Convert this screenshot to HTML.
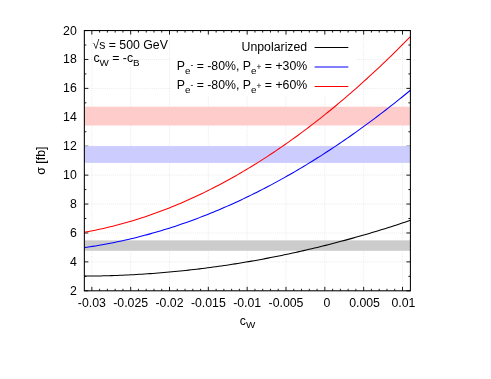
<!DOCTYPE html>
<html><head><meta charset="utf-8"><title>plot</title>
<style>
html,body{margin:0;padding:0;background:#fff;}
body{width:491px;height:379px;overflow:hidden;}
svg{display:block;will-change:transform;}
text{font-family:"Liberation Sans",sans-serif;font-size:12.3px;fill:#000;}
</style></head><body>
<svg width="491" height="379" viewBox="0 0 491 379">
<rect width="491" height="379" fill="#ffffff"/>

<path d="M91.85 30.55V290.80M130.68 30.55V290.80M169.51 30.55V290.80M208.34 30.55V290.80M247.17 30.55V290.80M286.00 30.55V290.80M324.83 30.55V290.80M363.66 30.55V290.80M402.49 30.55V290.80M84.35 261.88H410.40M84.35 232.97H410.40M84.35 204.05H410.40M84.35 175.13H410.40M84.35 146.22H410.40M84.35 117.30H410.40M84.35 88.38H410.40M84.35 59.47H410.40" stroke="#e0e0e0" stroke-width="0.65" stroke-dasharray="1 1.05" fill="none"/>
<rect x="171" y="37" width="185" height="59" fill="#fff"/>
<path d="M91.85 290.80v-4.00M91.85 30.55v4.00M99.62 290.80v-2.00M99.62 30.55v2.00M107.38 290.80v-2.00M107.38 30.55v2.00M115.15 290.80v-2.00M115.15 30.55v2.00M122.91 290.80v-2.00M122.91 30.55v2.00M130.68 290.80v-4.00M130.68 30.55v4.00M138.45 290.80v-2.00M138.45 30.55v2.00M146.21 290.80v-2.00M146.21 30.55v2.00M153.98 290.80v-2.00M153.98 30.55v2.00M161.74 290.80v-2.00M161.74 30.55v2.00M169.51 290.80v-4.00M169.51 30.55v4.00M177.28 290.80v-2.00M177.28 30.55v2.00M185.04 290.80v-2.00M185.04 30.55v2.00M192.81 290.80v-2.00M192.81 30.55v2.00M200.57 290.80v-2.00M200.57 30.55v2.00M208.34 290.80v-4.00M208.34 30.55v4.00M216.11 290.80v-2.00M216.11 30.55v2.00M223.87 290.80v-2.00M223.87 30.55v2.00M231.64 290.80v-2.00M231.64 30.55v2.00M239.40 290.80v-2.00M239.40 30.55v2.00M247.17 290.80v-4.00M247.17 30.55v4.00M254.94 290.80v-2.00M254.94 30.55v2.00M262.70 290.80v-2.00M262.70 30.55v2.00M270.47 290.80v-2.00M270.47 30.55v2.00M278.23 290.80v-2.00M278.23 30.55v2.00M286.00 290.80v-4.00M286.00 30.55v4.00M293.77 290.80v-2.00M293.77 30.55v2.00M301.53 290.80v-2.00M301.53 30.55v2.00M309.30 290.80v-2.00M309.30 30.55v2.00M317.06 290.80v-2.00M317.06 30.55v2.00M324.83 290.80v-4.00M324.83 30.55v4.00M332.60 290.80v-2.00M332.60 30.55v2.00M340.36 290.80v-2.00M340.36 30.55v2.00M348.13 290.80v-2.00M348.13 30.55v2.00M355.89 290.80v-2.00M355.89 30.55v2.00M363.66 290.80v-4.00M363.66 30.55v4.00M371.43 290.80v-2.00M371.43 30.55v2.00M379.19 290.80v-2.00M379.19 30.55v2.00M386.96 290.80v-2.00M386.96 30.55v2.00M394.72 290.80v-2.00M394.72 30.55v2.00M402.49 290.80v-4.00M402.49 30.55v4.00M84.35 290.80h4.00M410.40 290.80h-4.00M84.35 276.34h2.00M410.40 276.34h-2.00M84.35 261.88h4.00M410.40 261.88h-4.00M84.35 247.43h2.00M410.40 247.43h-2.00M84.35 232.97h4.00M410.40 232.97h-4.00M84.35 218.51h2.00M410.40 218.51h-2.00M84.35 204.05h4.00M410.40 204.05h-4.00M84.35 189.59h2.00M410.40 189.59h-2.00M84.35 175.13h4.00M410.40 175.13h-4.00M84.35 160.68h2.00M410.40 160.68h-2.00M84.35 146.22h4.00M410.40 146.22h-4.00M84.35 131.76h2.00M410.40 131.76h-2.00M84.35 117.30h4.00M410.40 117.30h-4.00M84.35 102.84h2.00M410.40 102.84h-2.00M84.35 88.38h4.00M410.40 88.38h-4.00M84.35 73.93h2.00M410.40 73.93h-2.00M84.35 59.47h4.00M410.40 59.47h-4.00M84.35 45.01h2.00M410.40 45.01h-2.00M84.35 30.55h4.00M410.40 30.55h-4.00" stroke="#000" stroke-width="0.9" fill="none"/>
<rect x="84.35" y="106.70" width="326.05" height="18.80" fill="#ffcccc"/>
<rect x="84.35" y="146.10" width="326.05" height="16.80" fill="#ccccff"/>
<rect x="84.35" y="240.35" width="326.05" height="10.45" fill="#cccccc"/>
<polyline points="84.35,276.10 87.09,276.08 89.83,276.06 92.57,276.03 95.31,275.99 98.05,275.95 100.79,275.90 103.53,275.83 106.27,275.77 109.01,275.69 111.75,275.61 114.49,275.52 117.23,275.42 119.97,275.31 122.71,275.20 125.45,275.07 128.19,274.94 130.93,274.81 133.67,274.66 136.41,274.51 139.15,274.35 141.89,274.18 144.63,274.00 147.37,273.82 150.11,273.63 152.85,273.43 155.59,273.22 158.33,273.01 161.07,272.79 163.81,272.56 166.55,272.32 169.29,272.07 172.03,271.82 174.77,271.56 177.51,271.29 180.25,271.02 182.99,270.73 185.73,270.44 188.47,270.14 191.21,269.83 193.95,269.52 196.69,269.20 199.43,268.87 202.17,268.53 204.91,268.19 207.65,267.83 210.39,267.47 213.13,267.10 215.87,266.73 218.61,266.34 221.35,265.95 224.09,265.55 226.83,265.15 229.57,264.73 232.31,264.31 235.05,263.88 237.79,263.44 240.53,263.00 243.27,262.54 246.01,262.08 248.74,261.61 251.48,261.14 254.22,260.66 256.96,260.16 259.70,259.66 262.44,259.16 265.18,258.64 267.92,258.12 270.66,257.59 273.40,257.05 276.14,256.51 278.88,255.96 281.62,255.39 284.36,254.83 287.10,254.25 289.84,253.67 292.58,253.07 295.32,252.48 298.06,251.87 300.80,251.25 303.54,250.63 306.28,250.00 309.02,249.36 311.76,248.72 314.50,248.07 317.24,247.41 319.98,246.74 322.72,246.06 325.46,245.38 328.20,244.69 330.94,243.99 333.68,243.28 336.42,242.56 339.16,241.84 341.90,241.11 344.64,240.37 347.38,239.63 350.12,238.88 352.86,238.12 355.60,237.35 358.34,236.57 361.08,235.79 363.82,235.00 366.56,234.20 369.30,233.39 372.04,232.57 374.78,231.75 377.52,230.92 380.26,230.08 383.00,229.24 385.74,228.39 388.48,227.53 391.22,226.66 393.96,225.78 396.70,224.90 399.44,224.01 402.18,223.11 404.92,222.20 407.66,221.28 410.40,220.36" fill="none" stroke="#000000" stroke-width="1.05" stroke-linejoin="round"/>
<polyline points="84.35,247.58 87.09,247.19 89.83,246.78 92.57,246.36 95.31,245.93 98.05,245.47 100.79,245.01 103.53,244.52 106.27,244.02 109.01,243.51 111.75,242.98 114.49,242.43 117.23,241.86 119.97,241.29 122.71,240.69 125.45,240.08 128.19,239.45 130.93,238.81 133.67,238.15 136.41,237.48 139.15,236.79 141.89,236.09 144.63,235.36 147.37,234.63 150.11,233.87 152.85,233.11 155.59,232.32 158.33,231.52 161.07,230.71 163.81,229.87 166.55,229.03 169.29,228.16 172.03,227.28 174.77,226.39 177.51,225.48 180.25,224.55 182.99,223.61 185.73,222.65 188.47,221.67 191.21,220.68 193.95,219.68 196.69,218.66 199.43,217.62 202.17,216.57 204.91,215.50 207.65,214.41 210.39,213.31 213.13,212.20 215.87,211.06 218.61,209.92 221.35,208.75 224.09,207.57 226.83,206.38 229.57,205.16 232.31,203.94 235.05,202.69 237.79,201.44 240.53,200.16 243.27,198.87 246.01,197.56 248.74,196.24 251.48,194.90 254.22,193.55 256.96,192.18 259.70,190.80 262.44,189.40 265.18,187.98 267.92,186.55 270.66,185.10 273.40,183.63 276.14,182.15 278.88,180.66 281.62,179.14 284.36,177.62 287.10,176.07 289.84,174.51 292.58,172.94 295.32,171.35 298.06,169.74 300.80,168.12 303.54,166.48 306.28,164.83 309.02,163.16 311.76,161.47 314.50,159.77 317.24,158.05 319.98,156.32 322.72,154.57 325.46,152.81 328.20,151.03 330.94,149.23 333.68,147.42 336.42,145.59 339.16,143.74 341.90,141.88 344.64,140.01 347.38,138.12 350.12,136.21 352.86,134.29 355.60,132.35 358.34,130.39 361.08,128.42 363.82,126.44 366.56,124.44 369.30,122.42 372.04,120.39 374.78,118.34 377.52,116.27 380.26,114.19 383.00,112.09 385.74,109.98 388.48,107.85 391.22,105.71 393.96,103.55 396.70,101.37 399.44,99.18 402.18,96.97 404.92,94.75 407.66,92.51 410.40,90.25" fill="none" stroke="#0000ff" stroke-width="1.05" stroke-linejoin="round"/>
<polyline points="84.35,232.24 87.09,231.75 89.83,231.24 92.57,230.71 95.31,230.15 98.05,229.58 100.79,228.99 103.53,228.39 106.27,227.76 109.01,227.11 111.75,226.44 114.49,225.75 117.23,225.05 119.97,224.32 122.71,223.57 125.45,222.81 128.19,222.02 130.93,221.22 133.67,220.39 136.41,219.55 139.15,218.69 141.89,217.80 144.63,216.90 147.37,215.98 150.11,215.04 152.85,214.08 155.59,213.10 158.33,212.10 161.07,211.08 163.81,210.04 166.55,208.98 169.29,207.90 172.03,206.81 174.77,205.69 177.51,204.55 180.25,203.40 182.99,202.22 185.73,201.03 188.47,199.81 191.21,198.58 193.95,197.32 196.69,196.05 199.43,194.76 202.17,193.45 204.91,192.11 207.65,190.76 210.39,189.39 213.13,188.00 215.87,186.59 218.61,185.16 221.35,183.71 224.09,182.25 226.83,180.76 229.57,179.25 232.31,177.72 235.05,176.18 237.79,174.61 240.53,173.02 243.27,171.42 246.01,169.80 248.74,168.15 251.48,166.49 254.22,164.80 256.96,163.10 259.70,161.38 262.44,159.64 265.18,157.88 267.92,156.10 270.66,154.30 273.40,152.48 276.14,150.64 278.88,148.78 281.62,146.90 284.36,145.00 287.10,143.08 289.84,141.15 292.58,139.19 295.32,137.21 298.06,135.22 300.80,133.20 303.54,131.17 306.28,129.12 309.02,127.04 311.76,124.95 314.50,122.84 317.24,120.70 319.98,118.55 322.72,116.38 325.46,114.19 328.20,111.98 330.94,109.75 333.68,107.50 336.42,105.23 339.16,102.94 341.90,100.64 344.64,98.31 347.38,95.96 350.12,93.59 352.86,91.21 355.60,88.80 358.34,86.38 361.08,83.93 363.82,81.47 366.56,78.99 369.30,76.48 372.04,73.96 374.78,71.42 377.52,68.86 380.26,66.28 383.00,63.67 385.74,61.05 388.48,58.41 391.22,55.76 393.96,53.08 396.70,50.38 399.44,47.66 402.18,44.92 404.92,42.17 407.66,39.39 410.40,36.59" fill="none" stroke="#ff0000" stroke-width="1.05" stroke-linejoin="round"/>
<rect x="84.35" y="30.55" width="326.05" height="260.25" fill="none" stroke="#000" stroke-width="1.05"/>
<text x="76.8" y="294.75" text-anchor="end">2</text>
<text x="76.8" y="265.83" text-anchor="end">4</text>
<text x="76.8" y="236.92" text-anchor="end">6</text>
<text x="76.8" y="208.00" text-anchor="end">8</text>
<text x="76.8" y="179.08" text-anchor="end">10</text>
<text x="76.8" y="150.17" text-anchor="end">12</text>
<text x="76.8" y="121.25" text-anchor="end">14</text>
<text x="76.8" y="92.33" text-anchor="end">16</text>
<text x="76.8" y="63.42" text-anchor="end">18</text>
<text x="76.8" y="34.50" text-anchor="end">20</text>
<text x="91.85" y="307.35" text-anchor="middle">-0.03</text>
<text x="130.68" y="307.35" text-anchor="middle">-0.025</text>
<text x="169.51" y="307.35" text-anchor="middle">-0.02</text>
<text x="208.34" y="307.35" text-anchor="middle">-0.015</text>
<text x="247.17" y="307.35" text-anchor="middle">-0.01</text>
<text x="286.00" y="307.35" text-anchor="middle">-0.005</text>
<text x="326.83" y="307.35" text-anchor="middle">0</text>
<text x="364.56" y="307.35" text-anchor="middle">0.005</text>
<text x="403.39" y="307.35" text-anchor="middle">0.01</text>
<text transform="translate(45.05,160.6) rotate(-90)" text-anchor="middle">σ [fb]</text>
<text x="247.5" y="325.0" text-anchor="middle">c<tspan font-size="9.84" dy="3.4">W</tspan></text>
<text x="92.4" y="48.8">√s = 500 GeV</text>
<text x="93.4" y="62.0">c<tspan font-size="9.84" dy="3.5">W</tspan><tspan dy="-3.5"> = -c</tspan><tspan font-size="9.84" dy="3.5">B</tspan></text>
<text x="307.2" y="51.4" text-anchor="end">Unpolarized</text>
<text x="307.2" y="69.85" text-anchor="end">P<tspan font-size="9.84" dy="3.7">e</tspan><tspan font-size="8.36" dy="-5.1">-</tspan><tspan dy="1.4"> = -80%, P</tspan><tspan font-size="9.84" dy="3.7">e</tspan><tspan font-size="8.36" dy="-3.9">+</tspan><tspan dy="0.2"> = +30%</tspan></text>
<text x="307.2" y="89.20" text-anchor="end">P<tspan font-size="9.84" dy="3.7">e</tspan><tspan font-size="8.36" dy="-5.1">-</tspan><tspan dy="1.4"> = -80%, P</tspan><tspan font-size="9.84" dy="3.7">e</tspan><tspan font-size="8.36" dy="-3.9">+</tspan><tspan dy="0.2"> = +60%</tspan></text>
<path d="M314.6 47.50H348.3" stroke="#000" stroke-width="1.05"/>
<path d="M314.6 66.95H348.3" stroke="#0000ff" stroke-width="1.05"/>
<path d="M314.6 86.45H348.3" stroke="#ff0000" stroke-width="1.05"/>
</svg></body></html>
